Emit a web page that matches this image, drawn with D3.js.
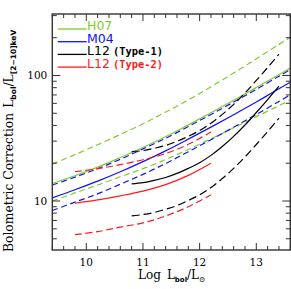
<!DOCTYPE html>
<html lang="en">
<head>
  <meta charset="UTF-8">
  <title>Bolometric correction</title>
  <script src="https://d3js.org/d3.v7.min.js"></script>
  <style>
    body { margin: 0; background: #fff; }
    svg { display: block; }
  </style>
</head>
<body>
  <div id="chart"></div>
  <script>
    // log Lbol grid for the H07 and M04 relations
    const lumGrid = [9.4, 9.8, 10.2, 10.6, 11.0, 11.4, 11.8, 12.2, 12.6, 13.0, 13.4, 13.6];
    const h07Mid = [13.8, 15.9, 18.6, 22.2, 26.7, 32.5, 40.4, 50.5, 63.5, 80.2, 101.5, 114.5];
    const h07Hi = [19.7, 23.4, 28.1, 33.9, 41.2, 51.1, 63.8, 81.3, 104.7, 135.8, 177, 202];
    const h07Lo = [10.0, 11.6, 13.4, 15.6, 18.1, 21.4, 25.7, 31.3, 38.3, 47.0, 57.5, 63.7];
    const m04Mid = [10.6, 12.3, 14.4, 17.1, 20.6, 25.1, 31.1, 38.8, 48.7, 61.6, 78.3, 88.3];
    const m04Hi = [13.4, 15.5, 18.1, 21.5, 26.0, 31.6, 39.2, 48.9, 61.4, 77.6, 98.7, 111.3];
    const m04Lo = [8.4, 9.8, 11.4, 13.6, 16.3, 19.9, 24.7, 30.8, 38.7, 48.9, 62.1, 70.1];

    // L12 type-1
    const t1Lum = [10.8, 11.0, 11.2, 11.4, 11.6, 11.8, 12.0, 12.2, 12.4, 12.6, 12.8, 13.0, 13.2, 13.4];
    const t1Mid = [13.7, 14.0, 14.6, 15.4, 16.6, 18.2, 20.2, 23.1, 27.2, 32.7, 40.3, 50.7, 64.3, 82.2];
    const t1Hi = [24.7, 25.2, 26.3, 27.7, 29.9, 32.8, 36.4, 41.6, 49.0, 58.9, 72.5, 91.3, 115.7, 148];
    const t1Lo = [7.6, 7.8, 8.1, 8.6, 9.2, 10.1, 11.2, 12.8, 15.1, 18.2, 22.4, 28.2, 35.7, 45.7];

    // L12 type-2
    const t2Lum = [9.8, 10.2, 10.6, 11.0, 11.4, 11.8, 12.2];
    const t2Mid = [9.6, 10.2, 11.0, 12.0, 13.5, 16.0, 20.0];
    const t2Hi = [17.1, 18.1, 19.5, 21.3, 23.9, 28.3, 35.4];
    const t2Lo = [5.4, 5.7, 6.2, 6.7, 7.6, 9.0, 11.2];

    const xTicks = [10, 11, 12, 13];
    const yTicks = [10, 100];
    const legendNames = ["H07", "M04", "L12", "L12"];
    const legendTags = ["", "", "(Type-1)", "(Type-2)"];

    const green = "#7ccd2a", blue = "#1010ff", black = "#000", red = "#ff1a1a";
    const legendColors = [green, blue, black, red];

    const width = 291, height = 289;
    const margin = { top: 14, right: 0.7, bottom: 39, left: 52.3 };

    const svg = d3.select("#chart").append("svg")
      .attr("width", width)
      .attr("height", height);

    const x = d3.scaleLinear()
      .domain([9.4, 13.6])
      .range([margin.left, width - margin.right]);

    const y = d3.scaleLog()
      .domain([4.07, 309])
      .range([height - margin.bottom, margin.top]);

    svg.append("clipPath").attr("id", "plot")
      .append("rect")
      .attr("x", x.range()[0]).attr("y", y.range()[1])
      .attr("width", x.range()[1] - x.range()[0])
      .attr("height", y.range()[0] - y.range()[1]);

    const line = d3.line()
      .x(d => x(d[0]))
      .y(d => y(d[1]))
      .curve(d3.curveCatmullRom);

    const curves = [
      { lum: lumGrid, vals: h07Hi, color: green, dash: "6,3.5" },
      { lum: lumGrid, vals: h07Lo, color: green, dash: "6,3.5" },
      { lum: lumGrid, vals: m04Hi, color: blue, dash: "6,3.5" },
      { lum: lumGrid, vals: m04Lo, color: blue, dash: "6,3.5" },
      { lum: lumGrid, vals: m04Mid, color: blue, dash: null },
      { lum: lumGrid, vals: h07Mid, color: green, dash: null },
      { lum: t2Lum, vals: t2Hi, color: red, dash: "7,3.5" },
      { lum: t2Lum, vals: t2Lo, color: red, dash: "7,3.5" },
      { lum: t2Lum, vals: t2Mid, color: red, dash: null },
      { lum: t1Lum, vals: t1Hi, color: black, dash: "8,4" },
      { lum: t1Lum, vals: t1Lo, color: black, dash: "8,4" },
      { lum: t1Lum, vals: t1Mid, color: black, dash: null }
    ];

    svg.append("g").attr("clip-path", "url(#plot)")
      .selectAll("path")
      .data(curves)
      .join("path")
      .attr("d", c => line(c.lum.map((l, i) => [l, c.vals[i]])))
      .attr("fill", "none")
      .attr("stroke", c => c.color)
      .attr("stroke-width", 1.2)
      .attr("stroke-dasharray", c => c.dash);

    // frame and ticks (inward on all sides)
    const frameColor = "#333";
    const x0 = x.range()[0], x1 = x.range()[1];
    const yb = y.range()[0], yt = y.range()[1];

    const xMinor = d3.range(9.4, 13.61, 0.2).map(v => +v.toFixed(1));
    const yMinor = [5, 6, 7, 8, 9, 20, 30, 40, 50, 60, 70, 80, 90, 200, 300];

    const ticks = svg.append("g").attr("stroke", frameColor).attr("stroke-width", 1);
    xMinor.forEach(v => {
      const len = xTicks.includes(v) ? 7 : 4;
      ticks.append("line").attr("x1", x(v)).attr("x2", x(v)).attr("y1", yb).attr("y2", yb - len);
      ticks.append("line").attr("x1", x(v)).attr("x2", x(v)).attr("y1", yt).attr("y2", yt + len);
    });
    yMinor.concat(yTicks).forEach(v => {
      const len = yTicks.includes(v) ? 8 : 4.5;
      ticks.append("line").attr("x1", x0).attr("x2", x0 + len).attr("y1", y(v)).attr("y2", y(v));
      ticks.append("line").attr("x1", x1).attr("x2", x1 - len).attr("y1", y(v)).attr("y2", y(v));
    });

    svg.append("rect")
      .attr("x", x0).attr("y", yt)
      .attr("width", x1 - x0).attr("height", yb - yt)
      .attr("fill", "none")
      .attr("stroke", frameColor)
      .attr("stroke-width", 1.4);

    // tick labels
    const serif = "DejaVu Serif, Liberation Serif, serif";
    svg.append("g").selectAll("text")
      .data(xTicks)
      .join("text")
      .attr("x", d => x(d))
      .attr("y", yb + 15.5)
      .attr("text-anchor", "middle")
      .attr("font-family", serif)
      .attr("font-size", 10.5)
      .text(d => d);

    svg.append("g").selectAll("text")
      .data(yTicks)
      .join("text")
      .attr("x", x0 - 5)
      .attr("y", d => y(d) + 4)
      .attr("text-anchor", "end")
      .attr("font-family", serif)
      .attr("font-size", 10.5)
      .text(d => d);

    // axis titles
    const xt = svg.append("text")
      .attr("x", 138)
      .attr("y", 279)
      .attr("font-family", serif)
      .attr("font-size", 12);
    xt.append("tspan").text("Log");
    xt.append("tspan").attr("dx", 6).text("L");
    xt.append("tspan").attr("dy", 2.5).attr("font-size", 7).attr("font-weight", "bold")
      .attr("font-family", "DejaVu Sans, sans-serif").text("bol");
    xt.append("tspan").attr("dy", -2.5).text("/L");
    xt.append("tspan").attr("dy", 2.5).attr("font-size", 7.5).text("\u2299");

    const yt2 = svg.append("text")
      .attr("transform", "translate(13,252) rotate(-90)")
      .attr("font-family", serif)
      .attr("font-size", 12.3);
    yt2.append("tspan").text("Bolometric Correction");
    yt2.append("tspan").attr("dx", 5).text("L");
    yt2.append("tspan").attr("dy", 2.5).attr("font-size", 7.5).attr("font-weight", "bold")
      .attr("font-family", "DejaVu Sans, sans-serif").text("bol");
    yt2.append("tspan").attr("dy", -2.5).text("/L");
    yt2.append("tspan").attr("dy", 2.5).attr("font-size", 7.5).attr("font-weight", "bold")
      .attr("font-family", "DejaVu Sans, sans-serif").text("[2\u221210]keV");

    // legend
    const legend = svg.append("g");
    legendNames.forEach((name, i) => {
      const base = 30 + i * 12.7;
      legend.append("line")
        .attr("x1", 57.7).attr("x2", 86.7)
        .attr("y1", base - 1).attr("y2", base - 1)
        .attr("stroke", legendColors[i])
        .attr("stroke-width", 1.3);
      legend.append("text")
        .attr("x", 87)
        .attr("y", base)
        .attr("fill", legendColors[i])
        .attr("font-family", "DejaVu Sans, sans-serif")
        .attr("font-size", 12.5)
        .text(name);
      if (legendTags[i]) {
        legend.append("text")
          .attr("x", 113)
          .attr("y", base)
          .attr("fill", legendColors[i])
          .attr("font-family", "DejaVu Sans Mono, Liberation Mono, monospace")
          .attr("font-weight", "bold")
          .attr("font-size", 10.4)
          .text(legendTags[i]);
      }
    });
  </script>
</body>
</html>
